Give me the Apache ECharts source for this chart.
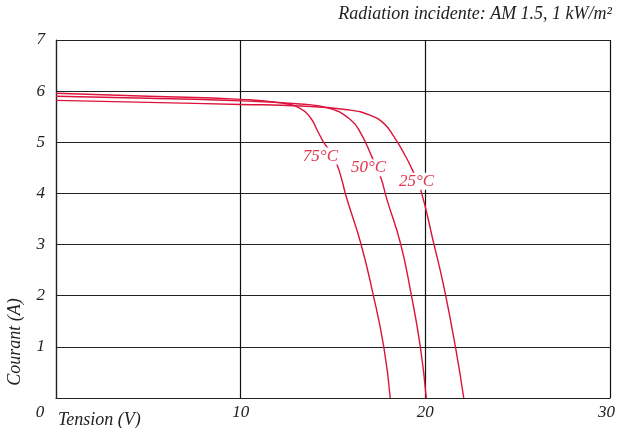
<!DOCTYPE html>
<html>
<head>
<meta charset="utf-8">
<script src="https://cdn.jsdelivr.net/npm/echarts@6/dist/echarts.min.js"></script>
<style>
html,body{margin:0;padding:0;background:#fff;}
#chart{width:617px;height:428px;}
</style>
</head>
<body>
<div id="chart"></div>
<script>
// Tension (V) / Courant (A) pairs
const curve25V = [0, 5, 10, 13.2, 15.9, 17.0, 17.75, 18.3, 18.85, 19.3, 19.75, 20.45, 21.0, 21.63, 22.08];
const curve25I = [5.82, 5.78, 5.74, 5.71, 5.63, 5.53, 5.37, 5.11, 4.78, 4.46, 4.07, 3.03, 2.18, 1.0, 0];
const curve50V = [0, 5, 10, 13.2, 14.85, 15.95, 16.5, 17.1, 17.57, 17.93, 18.65, 19.19, 19.73, 20.05];
const curve50I = [5.90, 5.86, 5.81, 5.75, 5.66, 5.44, 5.18, 4.72, 4.33, 3.87, 3.03, 2.11, 1.0, 0];
const curve75V = [0, 5, 10, 12.15, 13.24, 13.78, 14.14, 14.48, 15.13, 15.77, 16.5, 17.12, 17.75, 18.1];
const curve75I = [5.96, 5.90, 5.84, 5.77, 5.66, 5.48, 5.24, 5.01, 4.65, 3.87, 3.03, 2.11, 1.0, 0];
const seriesNames = ['25°C', '50°C', '75°C'];
const xTicks = [0, 10, 20, 30];
const yTicks = [0, 1, 2, 3, 4, 5, 6, 7];
const titleText = 'Radiation incidente: AM 1.5, 1 kW/m²';
const xName = 'Tension (V)';
const yName = 'Courant (A)';

const zip = (a, b) => a.map((v, i) => [v, b[i]]);
const RED = '#dc143c';
const FONT = '"Liberation Serif", "DejaVu Serif", serif';

// label anchors (layout only)
const labelAt = {'25°C': [19.52, 4.24], '50°C': [16.92, 4.50], '75°C': [14.32, 4.73]};

function mkSeries(name, v, i) {
  return {
    name: name,
    type: 'line',
    data: zip(v, i),
    smooth: 0.5,
    symbol: 'none',
    lineStyle: {color: RED, width: 1.4},
    z: 3,
    markPoint: {
      symbol: 'circle', symbolSize: 0,
      data: [{coord: labelAt[name], value: name}],
      label: {
        show: true, position: 'inside', formatter: name,
        fontFamily: FONT, fontStyle: 'italic', fontSize: 17, color: '#e2334f',
        backgroundColor: '#fff', padding: [0, 1, 0, 1]
      },
      z: 5
    }
  };
}

const tickRich = {
  z: {fontFamily: FONT, fontStyle: 'italic', fontSize: 17, color: '#222', padding: [0, 32, 0, 0]},
  r: {fontFamily: FONT, fontStyle: 'italic', fontSize: 17, color: '#222', padding: [0, 7, 0, 0]}
};

const chart = echarts.init(document.getElementById('chart'), null, {renderer: 'canvas'});
chart.setOption({
  animation: false,
  backgroundColor: '#fff',
  grid: {left: 56, right: 7, top: 40, bottom: 30, containLabel: false, outerBoundsMode: 'none'},
  xAxis: {
    type: 'value', min: xTicks[0], max: xTicks[xTicks.length - 1], interval: 10,
    axisLine: {show: true, lineStyle: {color: '#222', width: 1.2}},
    axisTick: {show: false},
    splitLine: {show: true, lineStyle: {color: '#111', width: 1.2}},
    axisLabel: {
      fontFamily: FONT, fontStyle: 'italic', fontSize: 17, color: '#222', margin: 6,
      formatter: v => v === xTicks[0] ? '{z|' + v + '}' : (v === xTicks[xTicks.length - 1] ? '{r|' + v + '}' : String(v)),
      rich: tickRich
    }
  },
  yAxis: {
    type: 'value', min: yTicks[0], max: yTicks[yTicks.length - 1], interval: 1,
    axisLine: {show: true, lineStyle: {color: '#222', width: 1.2}},
    axisTick: {show: false},
    splitLine: {show: true, lineStyle: {color: '#222', width: 1.2}},
    axisLabel: {
      fontFamily: FONT, fontStyle: 'italic', fontSize: 17, color: '#222', margin: 11,
      showMinLabel: false
    }
  },
  graphic: [
    {type: 'text', x: 612, y: 14, style: {text: titleText, font: 'italic 18px ' + FONT, fill: '#222', align: 'right', verticalAlign: 'middle'}},
    {type: 'text', x: 58, y: 420, style: {text: xName, font: 'italic 18px ' + FONT, fill: '#222', align: 'left', verticalAlign: 'middle'}},
    {type: 'text', x: 15, y: 342, rotation: Math.PI / 2, style: {text: yName, font: 'italic 18px ' + FONT, fill: '#222', align: 'center', verticalAlign: 'middle'}}
  ],
  series: [
    mkSeries(seriesNames[0], curve25V, curve25I),
    mkSeries(seriesNames[1], curve50V, curve50I),
    mkSeries(seriesNames[2], curve75V, curve75I)
  ]
});
</script>
</body>
</html>
